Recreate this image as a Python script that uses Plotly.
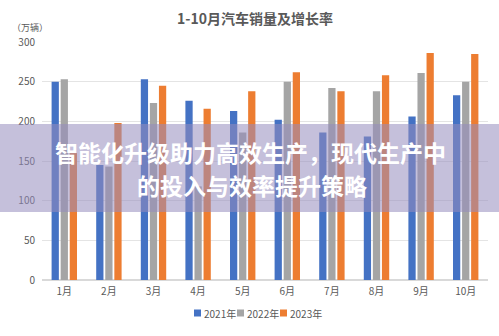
import plotly.graph_objects as go

months = ["1月", "2月", "3月", "4月", "5月", "6月", "7月", "8月", "9月", "10月"]
sales_2021 = [250, 145, 253, 226, 213, 202, 186, 181, 206, 233]
sales_2022 = [253, 143, 223, 118, 186, 250, 242, 238, 261, 250]
sales_2023 = [160, 198, 245, 216, 238, 262, 238, 258, 286, 285]
series_names = ["2021年", "2022年", "2023年"]
series_colors = ["#4472C4", "#A5A5A5", "#ED7D31"]

FONT = "Noto Sans CJK SC"
W, H = 499, 336
L, R, T, B = 42, 11, 42, 56
plot_w = W - L - R
plot_h = H - T - B

fig = go.Figure()
for name, vals, color in zip(series_names, [sales_2021, sales_2022, sales_2023], series_colors):
    fig.add_trace(go.Bar(x=months, y=vals, name=name, marker=dict(color=color, line=dict(width=0))))

def px_x(px):
    # pixel column -> paper x
    return (px - L) / plot_w

def py(px):
    # pixel row -> paper y
    return (H - B - px) / plot_h

fig.update_layout(
    width=W, height=H,
    margin=dict(l=L, r=R, t=T, b=B),
    paper_bgcolor="white", plot_bgcolor="white",
    barmode="group", bargap=0.39, bargroupgap=0.2,
    font=dict(family=FONT, color="#595959", size=10),
    title=dict(text="<b>1-10月汽车销量及增长率</b>", x=255 / W, xanchor="center",
               y=1 - 19 / H, yanchor="middle",
               font=dict(family=FONT, size=14, color="#595959")),
    xaxis=dict(showgrid=False, showline=False, ticks="", ticklabelstandoff=4,
               tickfont=dict(size=10, color="#595959")),
    yaxis=dict(range=[0, 300], dtick=50, showgrid=True, gridcolor="#E4E4E4", gridwidth=1,
               zeroline=True, zerolinecolor="#D9D9D9", ticks="", ticklabelstandoff=6,
               tickfont=dict(size=10, color="#595959")),
    showlegend=False,
)

# compact legend row: square swatch followed by the series name
legend_x = [194, 237, 280]
for x0, name, color in zip(legend_x, series_names, series_colors):
    fig.add_shape(type="rect", xref="paper", yref="paper",
                  x0=px_x(x0), x1=px_x(x0 + 7), y0=py(316.5), y1=py(309.5),
                  fillcolor=color, line=dict(width=0))
    fig.add_annotation(text=name, xref="paper", yref="paper", x=px_x(x0 + 8), y=py(313),
                       xanchor="left", yanchor="middle", showarrow=False,
                       font=dict(family=FONT, size=10, color="#595959"))

fig.add_annotation(text="（万辆）", xref="paper", yref="paper", x=px_x(30),
                   y=py(27), xanchor="center", yanchor="middle", showarrow=False,
                   font=dict(family=FONT, size=9, color="#595959"))

# translucent banner across the chart
fig.add_shape(type="rect", xref="paper", yref="paper",
              x0=px_x(0), x1=px_x(W), y0=py(212), y1=py(124),
              fillcolor="rgba(150,140,190,0.55)", line=dict(width=0), layer="above")

fig.add_annotation(text="<b>智能化升级助力高效生产，现代生产中</b>", xref="paper", yref="paper",
                   x=px_x(250), y=py(152), xanchor="center", yanchor="middle",
                   showarrow=False, font=dict(family=FONT, size=23, color="white"))
fig.add_annotation(text="<b>的投入与效率提升策略</b>", xref="paper", yref="paper",
                   x=px_x(252), y=py(185), xanchor="center", yanchor="middle",
                   showarrow=False, font=dict(family=FONT, size=23, color="white"))

fig.write_html("out.html")
